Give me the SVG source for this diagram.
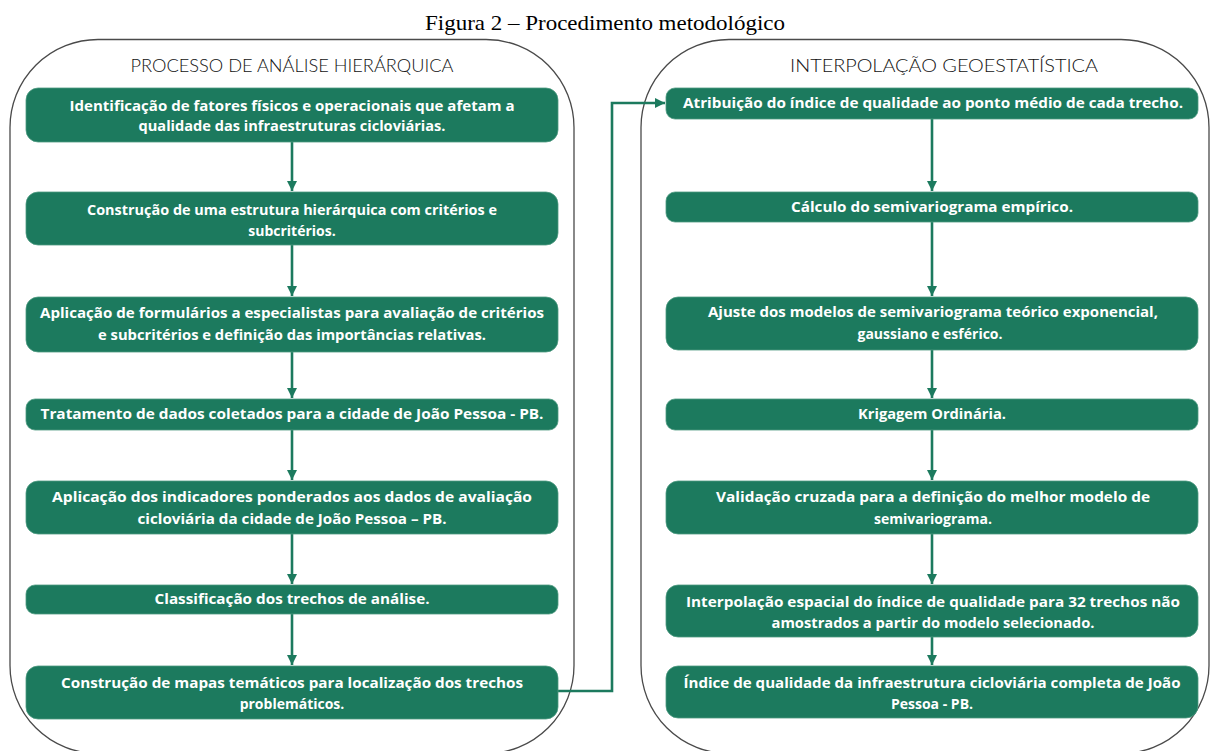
<svg xmlns="http://www.w3.org/2000/svg" width="1210" height="751" viewBox="0 0 1210 751">
<defs>
<style>
.title{font-family:"Liberation Serif","Times New Roman",serif;font-size:21px;fill:#000}
.head{font-family:"Lato","Open Sans","DejaVu Sans",sans-serif;font-weight:300;font-size:17px;fill:#111}
.cont{fill:none;stroke:#4a4a4a;stroke-width:1.3}
.box{fill:#1c7a5e;stroke:#4f9a82;stroke-width:0.8}
.t{font-family:"Open Sans","Lato","DejaVu Sans",sans-serif;font-weight:700;font-size:14px;fill:#fff;text-anchor:middle}
.c{fill:none;stroke:#1c7a5e;stroke-width:2.6}
</style>
<marker id="ah" viewBox="0 0 10 10" refX="10" refY="5" markerWidth="4" markerHeight="4" markerUnits="strokeWidth" orient="auto">
<path d="M0,0 L10,5 L0,10 z" fill="#1c7a5e"/>
</marker>
</defs>
<rect width="1210" height="751" fill="#fff"/>
<text class="title" x="605" y="30" text-anchor="middle" textLength="360" lengthAdjust="spacingAndGlyphs">Figura 2 – Procedimento metodológico</text>

<g id="container-left">
<rect class="cont" x="10" y="39.5" width="564" height="714" rx="88" ry="88"/>
<text class="head" x="292" y="72" text-anchor="middle" textLength="323" lengthAdjust="spacingAndGlyphs">PROCESSO DE ANÁLISE HIERÁRQUICA</text>
</g>
<g id="container-right">
<rect class="cont" x="641" y="39.5" width="568" height="714" rx="88" ry="88"/>
<text class="head" x="944" y="72" text-anchor="middle" textLength="308" lengthAdjust="spacingAndGlyphs">INTERPOLAÇÃO GEOESTATÍSTICA</text>
</g>

<g id="connectors">
<line class="c" x1="292" y1="142" x2="292" y2="191" marker-end="url(#ah)"/>
<line class="c" x1="292" y1="245" x2="292" y2="296" marker-end="url(#ah)"/>
<line class="c" x1="292" y1="352" x2="292" y2="398" marker-end="url(#ah)"/>
<line class="c" x1="292" y1="430" x2="292" y2="480" marker-end="url(#ah)"/>
<line class="c" x1="292" y1="534" x2="292" y2="584" marker-end="url(#ah)"/>
<line class="c" x1="292" y1="614" x2="292" y2="665" marker-end="url(#ah)"/>
<line class="c" x1="932" y1="119" x2="932" y2="191" marker-end="url(#ah)"/>
<line class="c" x1="932" y1="222" x2="932" y2="296" marker-end="url(#ah)"/>
<line class="c" x1="932" y1="350" x2="932" y2="398" marker-end="url(#ah)"/>
<line class="c" x1="932" y1="430" x2="932" y2="480" marker-end="url(#ah)"/>
<line class="c" x1="932" y1="534" x2="932" y2="584" marker-end="url(#ah)"/>
<line class="c" x1="932" y1="637" x2="932" y2="665" marker-end="url(#ah)"/>
<polyline class="c" points="558,691 612,691 612,103 665,103" marker-end="url(#ah)"/>
</g>

<g id="L1"><rect class="box" x="26" y="88" width="532" height="54" rx="12"/>
<text class="t" x="292" y="111" textLength="445" lengthAdjust="spacingAndGlyphs">Identificação de fatores físicos e operacionais que afetam a</text>
<text class="t" x="292" y="131" textLength="307" lengthAdjust="spacingAndGlyphs">qualidade das infraestruturas cicloviárias.</text></g>
<g id="L2"><rect class="box" x="26" y="192" width="532" height="53" rx="12"/>
<text class="t" x="292" y="215" textLength="410" lengthAdjust="spacingAndGlyphs">Construção de uma estrutura hierárquica com critérios e</text>
<text class="t" x="292" y="236">subcritérios.</text></g>
<g id="L3"><rect class="box" x="26" y="297" width="532" height="55" rx="12"/>
<text class="t" x="292" y="318" textLength="504" lengthAdjust="spacingAndGlyphs">Aplicação de formulários a especialistas para avaliação de critérios</text>
<text class="t" x="292" y="340" textLength="388" lengthAdjust="spacingAndGlyphs">e subcritérios e definição das importâncias relativas.</text></g>
<g id="L4"><rect class="box" x="26" y="399" width="532" height="31" rx="9"/>
<text class="t" x="292" y="419" textLength="503" lengthAdjust="spacingAndGlyphs">Tratamento de dados coletados para a cidade de João Pessoa - PB.</text></g>
<g id="L5"><rect class="box" x="26" y="481" width="532" height="53" rx="12"/>
<text class="t" x="292" y="502" textLength="480" lengthAdjust="spacingAndGlyphs">Aplicação dos indicadores ponderados aos dados de avaliação</text>
<text class="t" x="292" y="524" textLength="309" lengthAdjust="spacingAndGlyphs">cicloviária da cidade de João Pessoa – PB.</text></g>
<g id="L6"><rect class="box" x="26" y="585" width="532" height="29" rx="9"/>
<text class="t" x="292" y="604" textLength="275" lengthAdjust="spacingAndGlyphs">Classificação dos trechos de análise.</text></g>
<g id="L7"><rect class="box" x="26" y="666" width="532" height="53" rx="12"/>
<text class="t" x="292" y="688" textLength="462" lengthAdjust="spacingAndGlyphs">Construção de mapas temáticos para localização dos trechos</text>
<text class="t" x="292" y="709">problemáticos.</text></g>

<g id="R1"><rect class="box" x="666" y="88" width="532" height="31" rx="9"/>
<text class="t" x="933" y="108" textLength="500" lengthAdjust="spacingAndGlyphs">Atribuição do índice de qualidade ao ponto médio de cada trecho.</text></g>
<g id="R2"><rect class="box" x="666" y="192" width="532" height="30" rx="9"/>
<text class="t" x="932" y="212" textLength="282" lengthAdjust="spacingAndGlyphs">Cálculo do semivariograma empírico.</text></g>
<g id="R3"><rect class="box" x="666" y="297" width="532" height="53" rx="12"/>
<text class="t" x="933" y="317" textLength="450" lengthAdjust="spacingAndGlyphs">Ajuste dos modelos de semivariograma teórico exponencial,</text>
<text class="t" x="930" y="339">gaussiano e esférico.</text></g>
<g id="R4"><rect class="box" x="666" y="399" width="532" height="31" rx="9"/>
<text class="t" x="932" y="419" textLength="148" lengthAdjust="spacingAndGlyphs">Krigagem Ordinária.</text></g>
<g id="R5"><rect class="box" x="666" y="481" width="532" height="53" rx="12"/>
<text class="t" x="933" y="502" textLength="434" lengthAdjust="spacingAndGlyphs">Validação cruzada para a definição do melhor modelo de</text>
<text class="t" x="933" y="524">semivariograma.</text></g>
<g id="R6"><rect class="box" x="666" y="585" width="532" height="52" rx="12"/>
<text class="t" x="933" y="607" textLength="494" lengthAdjust="spacingAndGlyphs">Interpolação espacial do índice de qualidade para 32 trechos não</text>
<text class="t" x="933" y="628" textLength="323" lengthAdjust="spacingAndGlyphs">amostrados a partir do modelo selecionado.</text></g>
<g id="R7"><rect class="box" x="666" y="666" width="532" height="52" rx="12"/>
<text class="t" x="932" y="688" textLength="497" lengthAdjust="spacingAndGlyphs">Índice de qualidade da infraestrutura cicloviária completa de João</text>
<text class="t" x="932" y="709">Pessoa - PB.</text></g>
</svg>
